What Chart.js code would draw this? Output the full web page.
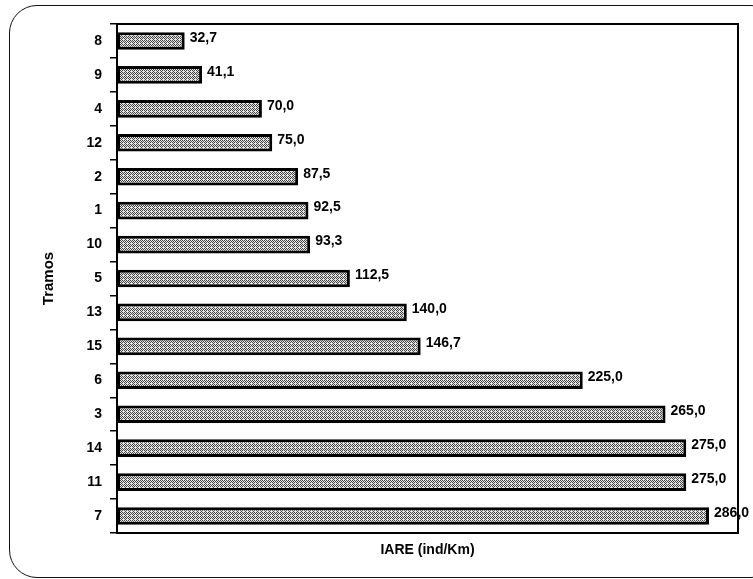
<!DOCTYPE html>
<html><head><meta charset="utf-8">
<script src="https://cdn.jsdelivr.net/npm/chart.js@4.4.0/dist/chart.umd.min.js"></script>
<style>
html,body{margin:0;padding:0;background:#fff;overflow:hidden;}
#wrap{position:relative;width:753px;height:579px;overflow:hidden;}
#frame{position:absolute;left:9px;top:5px;width:770px;height:573px;border:1.5px solid #111;border-radius:28px;box-sizing:border-box;}
canvas{position:absolute;left:0;top:0;}
</style></head><body>
<div id="wrap"><div id="frame"></div><canvas id="c" width="753" height="579"></canvas></div>
<script>
const categories = ['8','9','4','12','2','1','10','5','13','15','6','3','14','11','7'];
const values = [32.7,41.1,70.0,75.0,87.5,92.5,93.3,112.5,140.0,146.7,225.0,265.0,275.0,275.0,286.0];
const xTitle = 'IARE (ind/Km)';
const yTitle = 'Tramos';

function makePattern(){
  const p = document.createElement('canvas'); p.width = 4; p.height = 4;
  const g = p.getContext('2d');
  g.fillStyle = '#e6e6e6'; g.fillRect(0,0,4,4);
  g.fillStyle = '#444';
  [[0,0],[2,0],[1,1],[3,1],[0,2],[2,2],[1,3]].forEach(([x,y])=>g.fillRect(x,y,1,1));
  return document.getElementById('c').getContext('2d').createPattern(p,'repeat');
}
const FONT = 'Liberation Sans, Arial, sans-serif';

const labelPlugin = {
  id:'labels',
  afterDatasetsDraw(chart){
    const ctx = chart.ctx;
    const meta = chart.getDatasetMeta(0);
    ctx.save();
    ctx.font = 'bold 14px ' + FONT;
    ctx.fillStyle = '#000';
    ctx.textBaseline = 'middle';
    ctx.textAlign = 'left';
    meta.data.forEach((bar,i)=>{
      ctx.fillText(values[i].toFixed(1).replace('.',','), bar.x + 5, bar.y - 3);
    });
    ctx.restore();
  }
};
const boxPlugin = {
  id:'box',
  afterDraw(chart){
    const a = chart.chartArea, ctx = chart.ctx;
    ctx.save();
    ctx.strokeStyle = '#000'; ctx.lineWidth = 2;
    ctx.beginPath();
    ctx.moveTo(a.left, a.top); ctx.lineTo(a.right, a.top); ctx.lineTo(a.right, a.bottom);
    ctx.stroke();
    ctx.restore();
  }
};

new Chart(document.getElementById('c'), {
  type:'bar',
  data:{ labels: categories, datasets:[{ data: values, backgroundColor: makePattern(), borderColor:'#000', borderWidth:3, borderSkipped:false, barPercentage:0.52, categoryPercentage:1 }]},
  options:{
    indexAxis:'y', responsive:false, animation:false,
    layout:{ padding:{ top:24, right:15, left:0, bottom:0 } },
    plugins:{ legend:{display:false}, tooltip:{enabled:false} },
    scales:{
      x:{ min:0, max:300, ticks:{display:false}, grid:{display:false}, border:{color:'#000', width:2},
          title:{display:true, text:xTitle, color:'#000', font:{family:FONT, size:14, weight:'bold'}, padding:{top:0,bottom:20}},
          afterFit(s){ s.height = 46; } },
      y:{ grid:{ offset:true, drawOnChartArea:false, drawTicks:true, tickLength:7, color:'#000', lineWidth:1.5 },
          border:{color:'#000', width:2},
          ticks:{ color:'#000', font:{family:FONT, size:14, weight:'bold'}, padding:8 },
          title:{display:true, text:yTitle, color:'#000', font:{family:FONT, size:15, weight:'bold'}, padding:{top:40,bottom:0}},
          afterFit(s){ s.width = 117; } }
    }
  },
  plugins:[labelPlugin, boxPlugin]
});
</script>
</body></html>
